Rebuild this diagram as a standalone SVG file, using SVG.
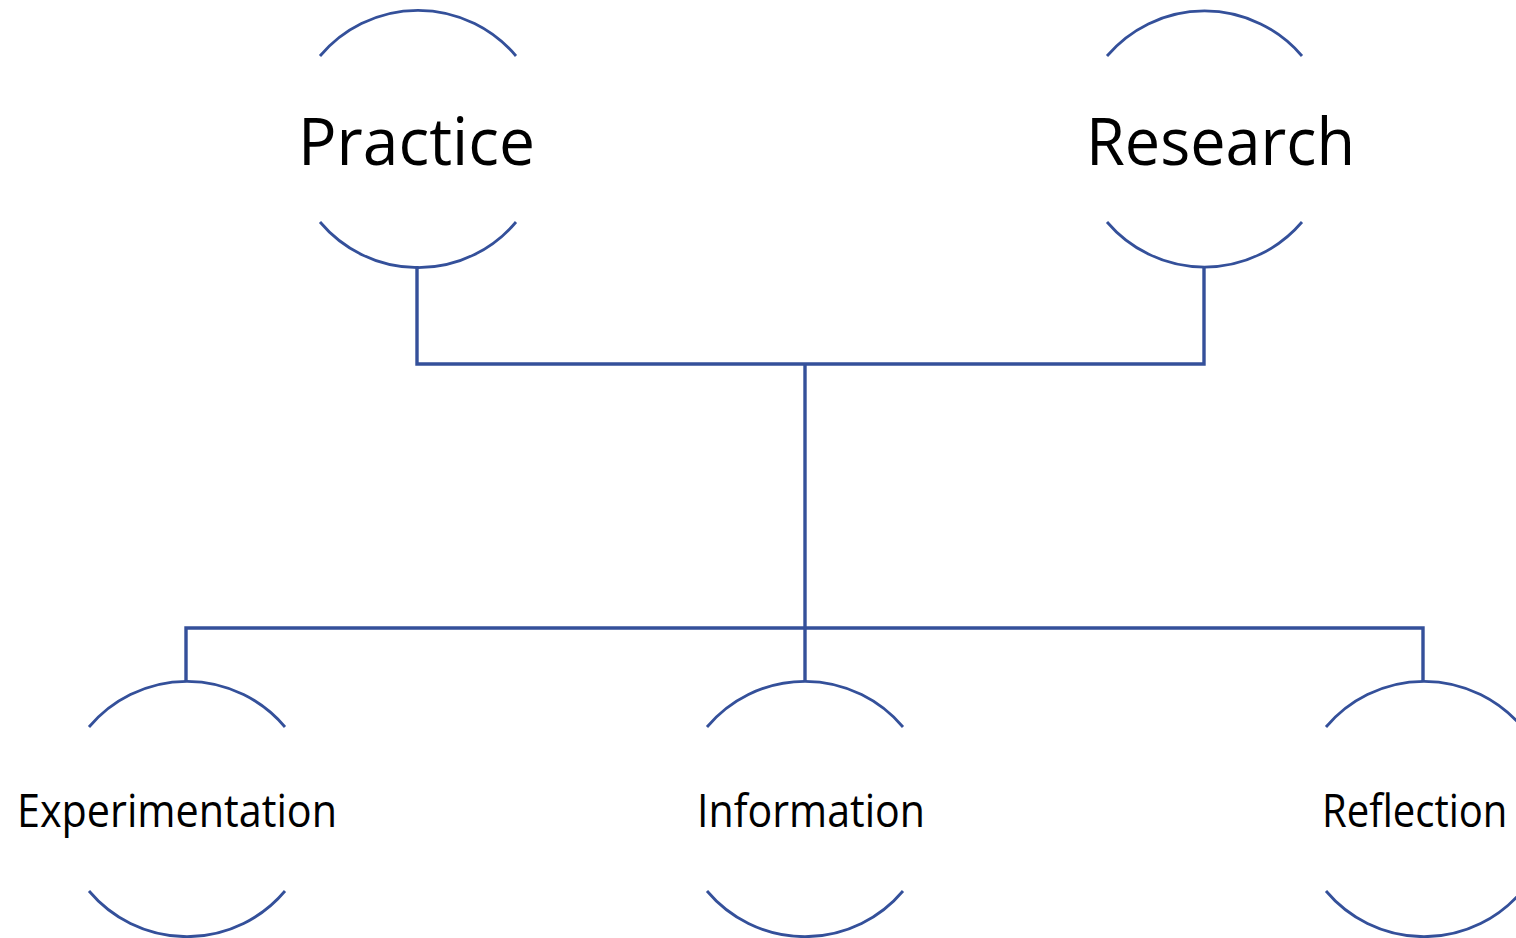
<svg xmlns="http://www.w3.org/2000/svg" width="1516" height="938" viewBox="0 0 1516 938">
<style>
.arc{fill:none;stroke:#34509A;stroke-width:2.8}
.con{fill:none;stroke:#34509A;stroke-width:3.4}
.big{font-family:"Open Sans","Liberation Sans",sans-serif;font-size:66px;fill:#000}
.small{font-family:"Open Sans","Liberation Sans",sans-serif;font-size:45px;fill:#000}
</style>
<rect width="1516" height="938" fill="#fff"/>
<g id="connectors">
<polyline class="con" points="417,266 417,364 1204,364 1204,266"/>
<line class="con" x1="805" y1="364" x2="805" y2="628"/>
<polyline class="con" points="186,681 186,628 1423,628 1423,681"/>
<line class="con" x1="805" y1="628" x2="805" y2="681"/>
</g>
<g id="practice">
<path class="arc" d="M320,56 A128,128 0 0 1 516,56"/>
<path class="arc" d="M320,222 A128,128 0 0 0 516,222"/>
<text class="big" x="298" y="165" textLength="237" lengthAdjust="spacingAndGlyphs">Practice</text>
</g>
<g id="research">
<path class="arc" d="M1107,56 A128,128 0 0 1 1302,56"/>
<path class="arc" d="M1107,222 A128,128 0 0 0 1302,222"/>
<text class="big" x="1086" y="165" textLength="269" lengthAdjust="spacingAndGlyphs">Research</text>
</g>
<g id="experimentation">
<path class="arc" d="M89,727 A128,128 0 0 1 285,727"/>
<path class="arc" d="M89,891 A128,128 0 0 0 285,891"/>
<text class="small" x="17" y="827" textLength="320" lengthAdjust="spacingAndGlyphs">Experimentation</text>
</g>
<g id="information">
<path class="arc" d="M707,727 A128,128 0 0 1 903,727"/>
<path class="arc" d="M707,891 A128,128 0 0 0 903,891"/>
<text class="small" x="697" y="827" textLength="228" lengthAdjust="spacingAndGlyphs">Information</text>
</g>
<g id="reflection">
<path class="arc" d="M1326,727 A128,128 0 0 1 1522,727"/>
<path class="arc" d="M1326,891 A128,128 0 0 0 1522,891"/>
<text class="small" transform="translate(1322 827) scale(0.89 1)" x="0" y="0">Reflection</text>
</g>
</svg>
